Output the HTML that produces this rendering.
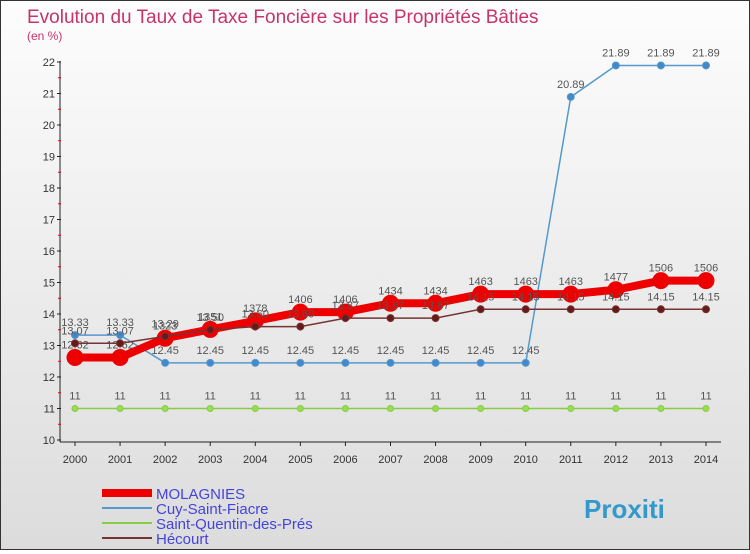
<!DOCTYPE html>
<html><head><meta charset="utf-8"><style>
body{margin:0;width:750px;height:550px;overflow:hidden;font-family:"Liberation Sans",sans-serif}
#wrap{position:relative;width:748px;height:548px;border:1px solid #333;background:linear-gradient(#fdfdfd,#dcdcdc)}
</style></head><body>
<div id="wrap">
<svg id="c" width="748" height="548"></svg>
</div>
<script>
const years=["2000","2001","2002","2003","2004","2005","2006","2007","2008","2009","2010","2011","2012","2013","2014"];
const molagnies=[12.62,12.62,13.23,13.51,13.78,14.06,14.06,14.34,14.34,14.63,14.63,14.63,14.77,15.06,15.06];
const cuy=[13.33,13.33,12.45,12.45,12.45,12.45,12.45,12.45,12.45,12.45,12.45,20.89,21.89,21.89,21.89];
const sq=[11,11,11,11,11,11,11,11,11,11,11,11,11,11,11];
const hecourt=[13.07,13.07,13.29,13.5,13.6,13.6,13.87,13.87,13.87,14.15,14.15,14.15,14.15,14.15,14.15];
const yTicks=[10,11,12,13,14,15,16,17,18,19,20,21,22];
const NS="http://www.w3.org/2000/svg";
const svg=document.getElementById('c');
const x=i=>74+i*45.07;
const y=v=>61+(22-v)*31.5;
function mk(t,a,p){const e=document.createElementNS(NS,t);for(const k in a)e.setAttribute(k,a[k]);(p||svg).appendChild(e);return e;}
let t=mk('text',{x:26,y:22,fill:'#c8336a','font-size':19});t.textContent='Evolution du Taux de Taxe Foncière sur les Propriétés Bâties';


t=mk('text',{x:26,y:39,fill:'#c8336a','font-size':12});t.textContent='(en %)';


mk('line',{x1:59,y1:60,x2:59,y2:441,stroke:'#222'});
mk('line',{x1:59,y1:441,x2:720,y2:441,stroke:'#222'});
yTicks.forEach(v=>{
 mk('line',{x1:56,y1:y(v),x2:60,y2:y(v),stroke:'#222'});
 if(v<22)mk('line',{x1:57,y1:y(v+0.5),x2:60,y2:y(v+0.5),stroke:'#e00'});
 const l=mk('text',{x:54,y:y(v)+4,'text-anchor':'end','font-size':11,fill:'#333'});l.textContent=v;
 
 
});
years.forEach((yr,i)=>{
 mk('line',{x1:x(i),y1:441,x2:x(i),y2:445,stroke:'#222'});
 const l=mk('text',{x:x(i),y:462,'text-anchor':'middle','font-size':11,fill:'#333'});l.textContent=yr;
 
 
});
function series(d,col,w,r,fill,name,lblCol){
 const g=mk('g',{});
 
 
 mk('polyline',{points:d.map((v,i)=>x(i)+','+y(v)).join(' '),fill:'none',stroke:col,'stroke-width':w},g);
 d.forEach((v,i)=>{
  const c=mk('circle',{cx:x(i),cy:y(v),r:r,fill:fill,stroke:col,'stroke-width':1},g);
  
  
  const l=mk('text',{x:x(i),y:y(v)-9,'text-anchor':'middle','font-size':11,fill:'#555'},g);
  l.textContent=String(v).replace(/^(\d+)\.(\d)$/,'$1.$20').replace('.', d===molagnies?'':'.');
  if(d===molagnies&&i<2)l.textContent='12.62';
 });
}
series(sq,'#88cc44',1.5,3,'#99dd55','saint-quentin-series');
series(cuy,'#5599cc',1.5,3.5,'#4488cc','cuy-series');
series(molagnies,'#ee0000',8,8,'#ee0000','molagnies-series');
series(hecourt,'#773333',1.5,3.5,'#661a1a','hecourt-series');
const leg=[['MOLAGNIES','#ee0000',8],['Cuy-Saint-Fiacre','#5599cc',2],['Saint-Quentin-des-Prés','#88cc44',2],['Hécourt','#773333',2]];
leg.forEach((e,i)=>{
 const g=mk('g',{});
 
 
 const yy=492+i*15;
 mk('line',{x1:101,y1:yy,x2:151,y2:yy,stroke:e[1],'stroke-width':e[2]},g);
 const l=mk('text',{x:155,y:yy+6,'font-size':15,fill:'#4444dd'},g);l.textContent=e[0];
});
t=mk('text',{x:583,y:517,'font-size':26,'font-weight':'bold',fill:'#3399cc'});t.textContent='Proxiti';


</script>
</body></html>
